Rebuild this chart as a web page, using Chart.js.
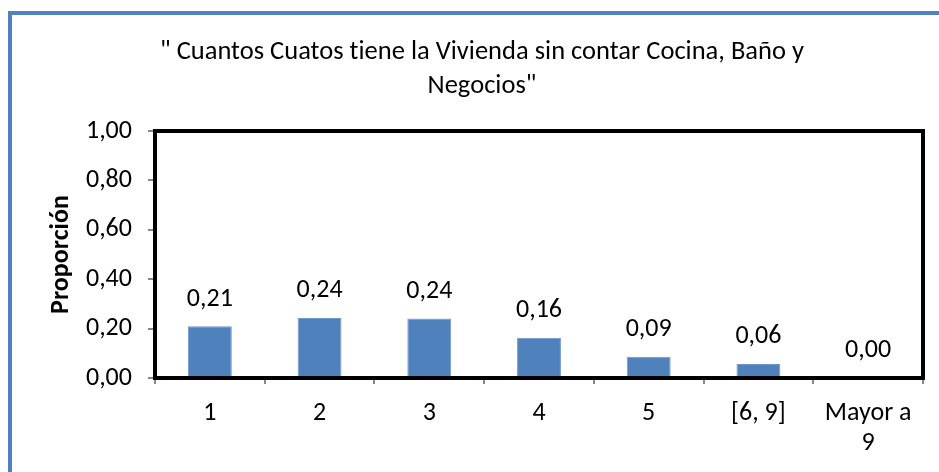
<!DOCTYPE html>
<html>
<head>
<meta charset="utf-8">
<script src="https://cdn.jsdelivr.net/npm/chart.js@4/dist/chart.umd.min.js"></script>
<style>
  html, body { margin: 0; padding: 0; background: #fff; overflow: hidden; }
  #box {
    position: absolute; left: 8px; top: 11px;
    width: 940px; height: 480px;
    border: 4px solid #4F81BD; background: #fff;
  }
  #chart { display: block; }
</style>
</head>
<body>
<div id="box"><canvas id="chart" width="940" height="480"></canvas></div>
<script>
const categories = ['1', '2', '3', '4', '5', '[6, 9]', ['Mayor a', '9']];
const proportions = [0.21, 0.243, 0.241, 0.163, 0.086, 0.057, 0.001];
const yTicks = [0, 0.2, 0.4, 0.6, 0.8, 1.0];

const FONT = 'Carlito, Lato, "Open Sans", sans-serif';

function fmtComma(v) {
  return v.toFixed(2).replace('.', ',');
}

// no "ti" ligatures, the original text has none
const noLigatures = {
  id: 'noLigatures',
  beforeDraw(chart) {
    chart.ctx.letterSpacing = '0.01px';
  }
};

// frame around the plot area, thick black like the original
const plotFrame = {
  id: 'plotFrame',
  afterDatasetsDraw(chart) {
    const { ctx, chartArea: a } = chart;
    ctx.save();
    ctx.strokeStyle = '#000';
    ctx.lineWidth = 4;
    ctx.strokeRect(a.left, a.top, a.right - a.left, a.bottom - a.top);
    ctx.restore();
  }
};

// value labels above each bar
const barLabels = {
  id: 'barLabels',
  afterDatasetsDraw(chart) {
    const { ctx } = chart;
    const meta = chart.getDatasetMeta(0);
    ctx.save();
    ctx.font = '26px ' + FONT;
    ctx.fillStyle = '#000';
    ctx.textAlign = 'center';
    ctx.textBaseline = 'middle';
    meta.data.forEach((bar, i) => {
      ctx.fillText(fmtComma(proportions[i]), bar.x, bar.y - 27);
    });
    ctx.restore();
  }
};

new Chart(document.getElementById('chart'), {
  type: 'bar',
  data: {
    labels: categories,
    datasets: [{
      data: proportions,
      backgroundColor: '#4F81BD',
      borderColor: '#7396c8',
      borderWidth: 1,
      barPercentage: 0.4,
      categoryPercentage: 1.0
    }]
  },
  options: {
    responsive: false,
    animation: false,
    layout: { padding: { left: 29, right: 29, top: 0, bottom: 0 } },
    plugins: {
      legend: { display: false },
      tooltip: { enabled: false },
      title: {
        display: true,
        text: ['" Cuantos Cuatos tiene la Vivienda sin contar Cocina, Baño y', 'Negocios"'],
        color: '#000',
        font: { family: FONT, size: 26.5, weight: 'normal', lineHeight: 34 / 26.5 },
        padding: { top: 20, bottom: 28 }
      }
    },
    scales: {
      x: {
        grid: { drawOnChartArea: false, drawTicks: true, tickLength: 6, tickColor: '#888', lineWidth: 2, offset: true },
        border: { display: true, color: '#000', width: 3 },
        ticks: { color: '#000', padding: 14, maxRotation: 0, autoSkip: false, font: { family: FONT, size: 26, lineHeight: 30 / 26 } },
        afterFit(scale) { scale.height = 117; }
      },
      y: {
        min: 0,
        max: 1,
        afterBuildTicks(scale) { scale.ticks = yTicks.map(v => ({ value: v })); },
        grid: { drawOnChartArea: false, drawTicks: true, tickLength: 7, tickColor: '#888', lineWidth: 2 },
        border: { display: true, color: '#000', width: 3 },
        ticks: { color: '#000', padding: 16, font: { family: FONT, size: 26 }, callback: v => fmtComma(v) },
        title: {
          display: true,
          text: 'Proporción',
          color: '#000',
          font: { family: FONT, size: 26, weight: 'bold', lineHeight: 1.2 },
          padding: { top: 5, bottom: 0 }
        },
        afterFit(scale) { scale.width = 114; }
      }
    }
  },
  plugins: [noLigatures, plotFrame, barLabels]
});
</script>
</body>
</html>
